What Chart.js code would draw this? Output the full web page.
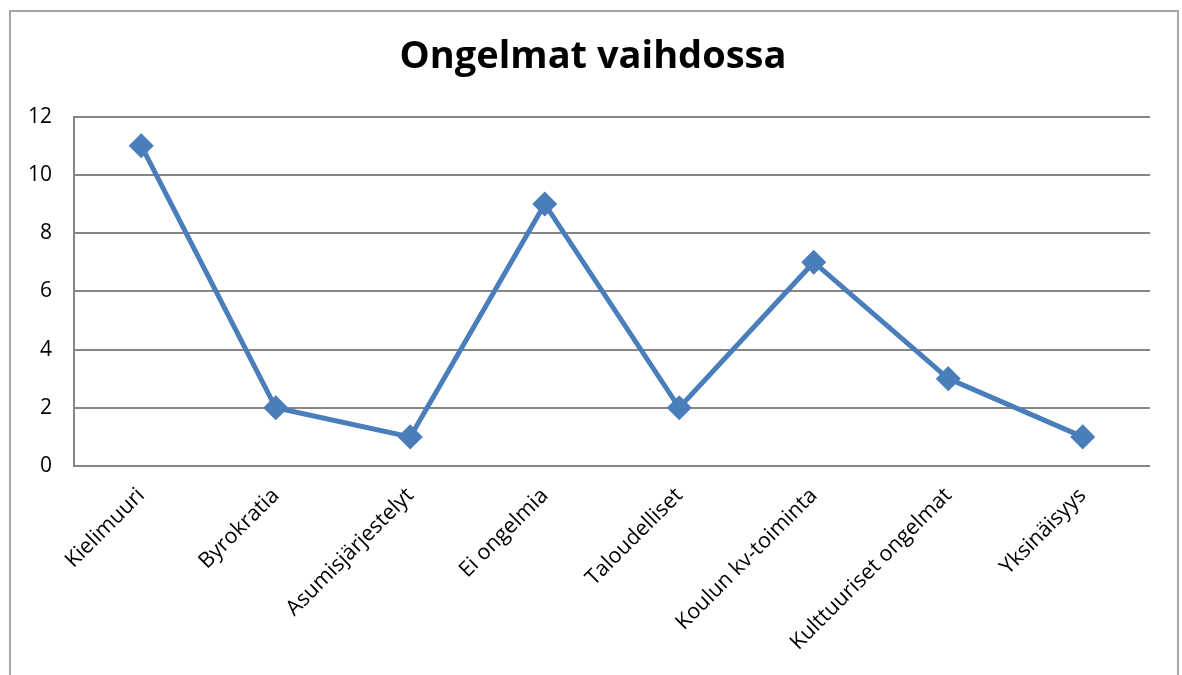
<!DOCTYPE html>
<html><head><meta charset="utf-8">
<script src="https://cdn.jsdelivr.net/npm/chart.js@4"></script>
<style>
html,body{margin:0;padding:0;background:#fff;overflow:hidden}
#frame{position:absolute;left:9px;top:10px;width:1170px;height:700px;border:2px solid #a6a6a6;box-sizing:border-box}
#c{position:absolute;left:0;top:0}
</style></head><body>
<div id="frame"></div>
<canvas id="c" width="1182" height="675"></canvas>
<script>
const categories = ["Kielimuuri","Byrokratia","Asumisjärjestelyt","Ei ongelmia","Taloudelliset","Koulun kv-toiminta","Kulttuuriset ongelmat","Yksinäisyys"];
const values = [11, 2, 1, 9, 2, 7, 3, 1];
const yTicks = [0, 2, 4, 6, 8, 10, 12];
const chartTitle = "Ongelmat vaihdossa";
const FONT = "'Open Sans', Lato, sans-serif";
new Chart(document.getElementById('c'), {
  type: 'line',
  data: { labels: categories, datasets: [{
    data: values, borderColor: '#4a7ebb', backgroundColor: '#4a7ebb',
    borderWidth: 5, pointStyle: 'rectRot', pointRadius: 9, pointHoverRadius: 9,
    tension: 0, fill: false
  }]},
  options: {
    responsive: false, animation: false,
    layout: { padding: { left: 4, right: 0, top: 0, bottom: 0 } },
    plugins: {
      legend: { display: false }, tooltip: { enabled: false },
      title: { display: true, text: chartTitle, color: '#000',
        font: { family: FONT, size: 38, weight: 'bold', lineHeight: 1.2 },
        padding: { top: 34, bottom: 37 } }
    },
    scales: {
      x: {
        offset: true,
        grid: { display: false, drawTicks: false },
        border: { display: false },
        ticks: { color: '#000', font: { family: FONT, size: 21.5 }, maxRotation: 45, minRotation: 45, padding: 17, autoSkip: false },
        afterFit: s => { s.height = 209; }
      },
      y: {
        min: yTicks[0], max: yTicks[yTicks.length - 1],
        afterBuildTicks: s => { s.ticks = yTicks.map(v => ({ value: v })); },
        grid: { color: '#868686', lineWidth: 2, drawTicks: false },
        border: { display: true, color: '#868686', width: 2 },
        ticks: { color: '#000', font: { family: FONT, size: 21 }, padding: 22 },
        afterFit: s => { s.width = 70; }
      },
      yPad: {
        position: 'right', display: true,
        grid: { display: false, drawTicks: false }, border: { display: false },
        ticks: { display: false },
        afterFit: s => { s.width = 32; }
      }
    }
  }
});
</script>
</body></html>
